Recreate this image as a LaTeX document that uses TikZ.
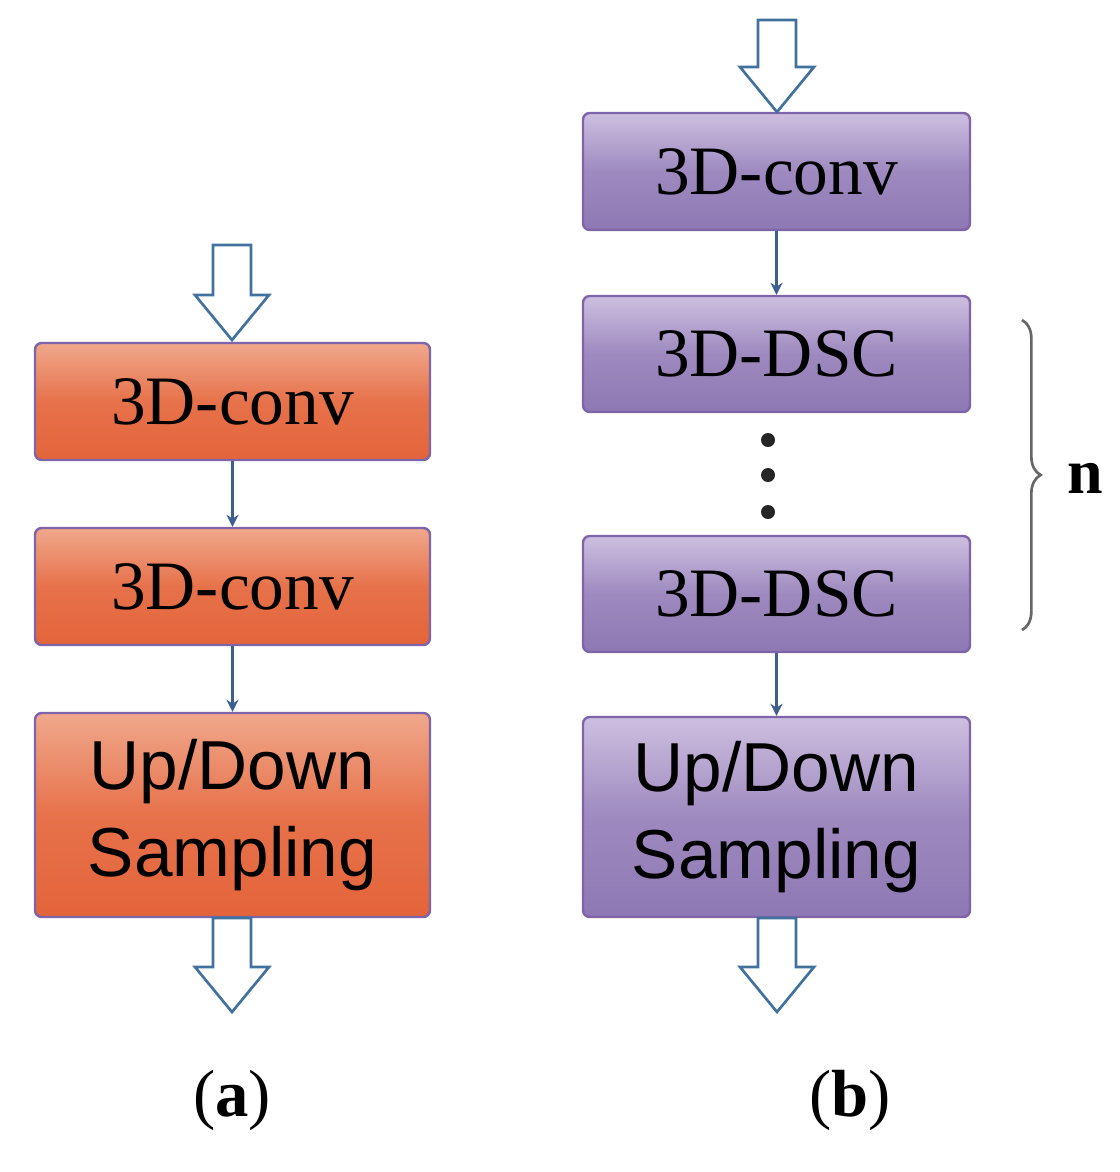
\documentclass[tikz,border=0pt]{standalone}
\usepackage{fontspec}
\setmainfont{Liberation Serif}
\newfontfamily\sansf{Liberation Sans}
\usetikzlibrary{arrows.meta,decorations.pathreplacing}
\definecolor{orA}{HTML}{E4643A}
\definecolor{orB}{HTML}{F0A88C}
\definecolor{puA}{HTML}{8E78B4}
\definecolor{puB}{HTML}{CDBFE0}
\definecolor{edg}{HTML}{7E64A8}
\definecolor{lnk}{HTML}{3D5F90}
\definecolor{barr}{HTML}{41719C}
\begin{document}
\begin{tikzpicture}[x=0.75pt,y=-0.75pt,
  box/.style={draw=edg,line width=1.8pt,rounded corners=5pt,minimum width=395*0.75pt,inner sep=0pt},
  orb/.style={box,top color=orB,bottom color=orA,middle color=orA!80!orB},
  pub/.style={box,top color=puB,bottom color=puA,middle color=puA!75!puB},
  ser/.style={font=\fontsize{52}{52}\selectfont},
  san/.style={font=\sansf\fontsize{52}{65}\selectfont,align=center},
  link/.style={draw=lnk,line width=1.6pt,-{Stealth[length=9pt,width=9pt]}},
  barrow/.style={draw=barr,line width=2pt,fill=white}]
\useasboundingbox (0,0) rectangle (1120,1172);
\newcommand\blockarrow[3]{% center x, top y, bottom y
  \path[barrow] (#1-19,#2) -- (#1+19,#2) -- (#1+19,#3-45) -- (#1+37,#3-45) -- (#1,#3) -- (#1-37,#3-45) -- (#1-19,#3-45) -- cycle;}
% left column
\node[orb,ser,minimum height=117*0.75pt] (a1) at (232.5,401.5) {3D-conv};
\node[orb,ser,minimum height=117*0.75pt] (a2) at (232.5,586.5) {3D-conv};
\node[orb,san,minimum height=204*0.75pt] (a3) at (232.5,815) {Up/Down\\Sampling};
\draw[link] (a1) -- (a2);
\draw[link] (a2) -- (a3);
\blockarrow{232}{245}{340}
\blockarrow{232}{918}{1012}
% right column
\node[pub,ser,minimum height=117*0.75pt,minimum width=387*0.75pt] (b1) at (776.5,171.5) {3D-conv};
\node[pub,ser,minimum height=116*0.75pt,minimum width=387*0.75pt] (b2) at (776.5,354) {3D-DSC};
\node[pub,ser,minimum height=116*0.75pt,minimum width=387*0.75pt] (b3) at (776.5,594) {3D-DSC};
\node[pub,san,minimum height=200*0.75pt,minimum width=387*0.75pt] (b4) at (776.5,817) {Up/Down\\Sampling};
\draw[link] (b1) -- (b2);
\draw[link] (b3) -- (b4);
\blockarrow{777}{20}{112}
\blockarrow{777}{918}{1012}
\foreach \y/\n in {440/d1,475/d2,512/d3}
  \fill[black!85] (768,\y) circle (7) coordinate (\n);
\coordinate (bt) at (1022,320);
\coordinate (bb) at (1022,630);
\draw[gray!80!black,line width=2pt,decorate,decoration={brace,amplitude=14pt}] (bt) -- (bb);
\node[font=\bfseries\fontsize{48}{48}\selectfont] (n) at (1085,478) {n};
\node[font=\fontsize{50}{50}\selectfont] (la) at (232,1100) {(\textbf{a})};
\node[font=\fontsize{50}{50}\selectfont] (lb) at (850,1100) {(\textbf{b})};
\end{tikzpicture}
\end{document}
